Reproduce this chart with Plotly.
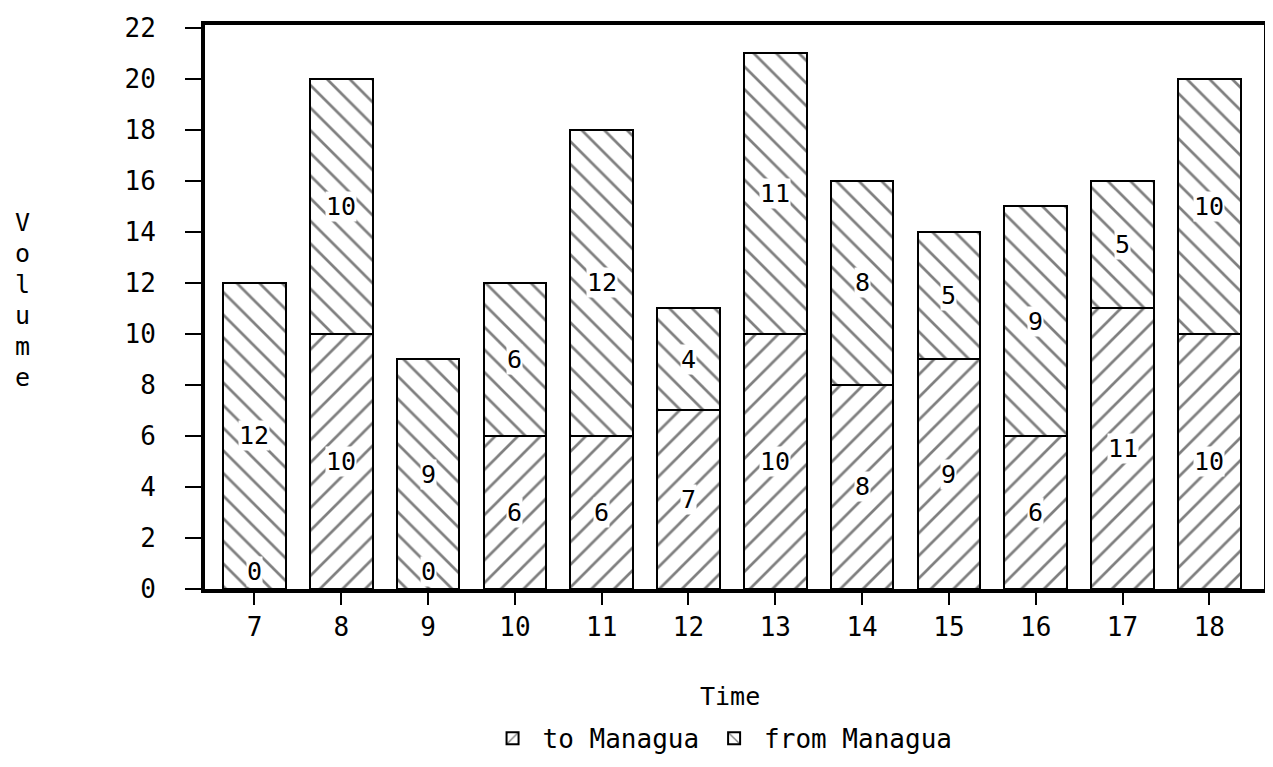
import plotly.graph_objects as go

hours = [7, 8, 9, 10, 11, 12, 13, 14, 15, 16, 17, 18]
to_managua = [0, 10, 0, 6, 6, 7, 10, 8, 9, 6, 11, 10]
from_managua = [12, 10, 9, 6, 12, 4, 11, 8, 5, 9, 5, 10]
y_ticks = [0, 2, 4, 6, 8, 10, 12, 14, 16, 18, 20, 22]
y_title = "Volume"

FONT = "DejaVu Sans Mono"
xs = list(range(len(hours)))

fig = go.Figure()
fig.add_trace(go.Bar(
    x=xs, y=to_managua, name="to Managua", width=0.72,
    marker=dict(color="white", line=dict(color="black", width=2),
                pattern=dict(shape="/", fgcolor="black", bgcolor="white", size=16, solidity=0.17)),
))
fig.add_trace(go.Bar(
    x=xs, y=from_managua, name="from Managua", width=0.72,
    marker=dict(color="white", line=dict(color="black", width=2),
                pattern=dict(shape="\\", fgcolor="black", bgcolor="white", size=16, solidity=0.17)),
))

annotations = []
for i, (a, b) in enumerate(zip(to_managua, from_managua)):
    for base, v in ((0, a), (a, b)):
        if v > 0:
            annotations.append(dict(x=i, y=base + v / 2, text=str(v), showarrow=False,
                                    xanchor="center", yanchor="middle",
                                    font=dict(family=FONT, size=25, color="black"),
                                    bgcolor="white", borderpad=0))
        else:
            annotations.append(dict(x=i, y=base, yanchor="bottom", xanchor="center",
                                    text=str(v), showarrow=False,
                                    font=dict(family=FONT, size=25, color="black"),
                                    bgcolor="white", borderpad=0, yshift=2))

# plot area: left 205, right 1268, top 17, bottom 591 (page coords)
def px_x(p):
    return (p - 205) / (1268 - 205)

def px_y(p):
    return (591 - p) / (591 - 17)

annotations.append(dict(xref="paper", yref="paper", x=px_x(732), y=px_y(700),
                        xanchor="center", yanchor="middle", text="Time",
                        showarrow=False, font=dict(family=FONT, size=25, color="black")))
for k, ch in enumerate(y_title):
    annotations.append(dict(xref="paper", yref="paper", x=px_x(22), y=px_y(218 + 31.5 * k),
                            xanchor="center", yanchor="middle",
                            text=ch, showarrow=False,
                            font=dict(family=FONT, size=25, color="black")))

fig.update_layout(
    barmode="stack",
    width=1265, height=759,
    margin=dict(l=197, r=5, t=9, b=176),
    paper_bgcolor="white", plot_bgcolor="white",
    font=dict(family=FONT, size=26, color="black"),
    showlegend=True,
    legend=dict(orientation="h", x=px_x(722), xanchor="center", y=px_y(743), yanchor="middle",
                font=dict(family=FONT, size=26, color="black"), traceorder="normal",
                itemwidth=50),
    annotations=annotations,
    xaxis=dict(tickmode="array", tickvals=xs, ticktext=[str(h) for h in hours],
               range=[-0.57, 11.63], showline=True, linecolor="black", linewidth=4,
               mirror=True, ticks="outside", ticklen=12, tickwidth=2, tickcolor="black",
               showgrid=False, zeroline=False),
    yaxis=dict(tickmode="array", tickvals=y_ticks, range=[0, 22.1],
               showline=True, linecolor="black", linewidth=4, mirror=True,
               ticks="outside", ticklen=16, tickwidth=2, tickcolor="black",
               ticklabelstandoff=24, ticklabeloverflow="allow",
               showgrid=False, zeroline=False),
)

fig.write_html("out.html")
